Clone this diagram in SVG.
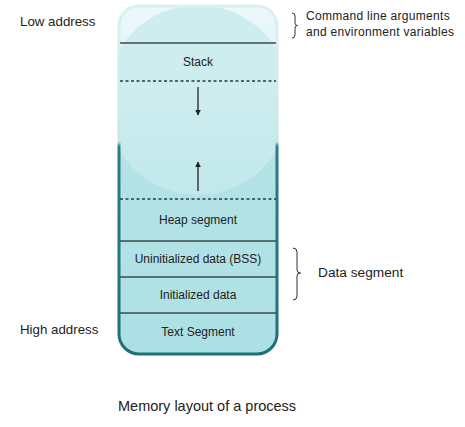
<svg xmlns="http://www.w3.org/2000/svg" width="465" height="427" viewBox="0 0 465 427">
<style>
text{font-family:"Liberation Sans",Arial,sans-serif;fill:#222}
.seg{font-size:12px;text-anchor:middle}
.lbl{font-size:13.3px}
.cmd{font-size:12px;letter-spacing:0.3px}
.sep{stroke:#3c4a4c;stroke-width:1.3;fill:none}
.dash{stroke:#2c3a3c;stroke-width:1.3;stroke-dasharray:3,2.5;fill:none}
.brace{stroke:#333;stroke-width:1;fill:none}
.arr{stroke:#222;stroke-width:1.3;fill:none}
</style>
<defs>
<linearGradient id="bg" x1="0" y1="5" x2="0" y2="355" gradientUnits="userSpaceOnUse">
<stop offset="0" stop-color="#edf9fa"/>
<stop offset="0.4" stop-color="#cdedef"/>
<stop offset="0.4" stop-color="#b5e3e7"/>
<stop offset="1" stop-color="#ace0e4"/>
</linearGradient>
<linearGradient id="hl" x1="0" y1="0" x2="0" y2="1">
<stop offset="0.5" stop-color="#cdedef"/>
<stop offset="1" stop-color="#c0e8eb"/>
</linearGradient>
<linearGradient id="bd" x1="0" y1="5" x2="0" y2="355" gradientUnits="userSpaceOnUse">
<stop offset="0" stop-color="#dcf0f1"/>
<stop offset="0.39" stop-color="#c6e7e9"/>
<stop offset="0.405" stop-color="#2a7d85"/>
<stop offset="1" stop-color="#1f6f78"/>
</linearGradient>
<clipPath id="cl"><rect x="119" y="6" width="158" height="348" rx="20"/></clipPath>
<marker id="ah" viewBox="0 0 10 10" refX="9" refY="5" markerWidth="6" markerHeight="6" orient="auto" markerUnits="userSpaceOnUse">
<path d="M0,0 L10,5 L0,10 z" fill="#222"/>
</marker>
</defs>
<g id="memory">
<rect x="119" y="6" width="158" height="348" rx="20" fill="url(#bg)"/>
<g clip-path="url(#cl)">
<ellipse cx="198" cy="100" rx="93" ry="95" fill="url(#hl)"/>
</g>
<rect x="119" y="6" width="158" height="348" rx="20" fill="none" stroke="url(#bd)" stroke-width="3"/>
</g>
<g id="separators">
<line class="sep" x1="120" y1="43" x2="276" y2="43"/>
<line class="dash" x1="120" y1="81" x2="276" y2="81"/>
<line class="dash" x1="120" y1="199" x2="276" y2="199"/>
<line class="sep" x1="120" y1="241" x2="276" y2="241"/>
<line class="sep" x1="120" y1="277" x2="276" y2="277"/>
<line class="sep" x1="120" y1="313" x2="276" y2="313"/>
</g>
<g id="connectors">
<line class="arr" x1="198" y1="87" x2="198" y2="115" marker-end="url(#ah)"/>
<line class="arr" x1="198" y1="191" x2="198" y2="162" marker-end="url(#ah)"/>
</g>
<g id="stack"><text class="seg" x="198" y="66">Stack</text></g>
<g id="heap"><text class="seg" x="198" y="224">Heap segment</text></g>
<g id="bss"><text class="seg" x="198" y="263">Uninitialized data (BSS)</text></g>
<g id="data"><text class="seg" x="198" y="299">Initialized data</text></g>
<g id="textseg"><text class="seg" x="198" y="336">Text Segment</text></g>
<g id="low"><text class="lbl" x="20" y="26">Low address</text></g>
<g id="high"><text class="lbl" x="20" y="334">High address</text></g>
<g id="cmd">
<path class="brace" d="M292,13 Q295,13 295,16 L295,23 Q295,25.5 297.5,25.5 Q295,25.5 295,28 L295,35 Q295,38 292,38"/>
<text class="cmd" x="306" y="20">Command line arguments</text>
<text class="cmd" x="306" y="36">and environment variables</text>
</g>
<g id="dataseg">
<path class="brace" d="M293,248 Q297,248 297,252 L297,270 Q297,273 300.5,273 Q297,273 297,276 L297,296 Q297,300 293,300"/>
<text x="318" y="277" style="font-size:13.7px">Data segment</text>
</g>
<g id="caption"><text x="118" y="411" style="font-size:14.5px">Memory layout of a process</text></g>
</svg>
